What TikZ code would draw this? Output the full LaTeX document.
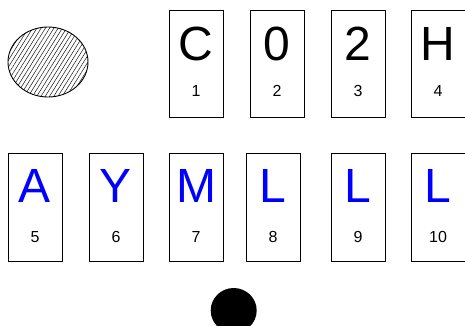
\documentclass[tikz,border=0pt]{standalone}
\usepackage{fontspec}
\setmainfont{Liberation Sans}
\usetikzlibrary{patterns.meta}
\definecolor{pureblue}{RGB}{0,0,255}
\begin{document}
\begin{tikzpicture}[x=1pt,y=-1pt,
  card/.style={draw=black,line width=0.9pt,fill=white,minimum width=54pt,minimum height=107pt,inner sep=0pt,outer sep=0pt},
  bigletter/.style={anchor=base,inner sep=0pt,font=\fontsize{48}{48}\selectfont},
  numlabel/.style={anchor=base,inner sep=0pt,font=\fontsize{16}{16}\selectfont}]
\useasboundingbox (0,0) rectangle (465,325);
% hatched ellipse
\path[draw=black,line width=0.9pt,pattern={Lines[angle=58,distance=3.6pt,line width=0.45pt]}] (48,62) ellipse [x radius=40, y radius=35];
% filled circle
\fill[black] (233.7,310.5) ellipse [x radius=23, y radius=22.5];
% row 1
\foreach \n/\cx/\L in {1/196/C,2/277/0,3/358/2,4/438/H}{
  \node[card] (b\n) at (\cx,63.5) {};
  \node[bigletter] (l\n) at (\cx,60.5) {\L};
  \node[numlabel] (n\n) at (\cx,96.5) {\n};
}
% row 2
\foreach \n/\cx/\L in {5/35/A,6/116/Y,7/196/M,8/273/L,9/358/L,10/438/L}{
  \node[card,minimum height=108pt] (b\n) at (\cx,207) {};
  \node[bigletter,text=pureblue] (l\n) at (\cx,202) {\L};
  \node[numlabel] (n\n) at (\cx,242) {\n};
}
\end{tikzpicture}
\end{document}
